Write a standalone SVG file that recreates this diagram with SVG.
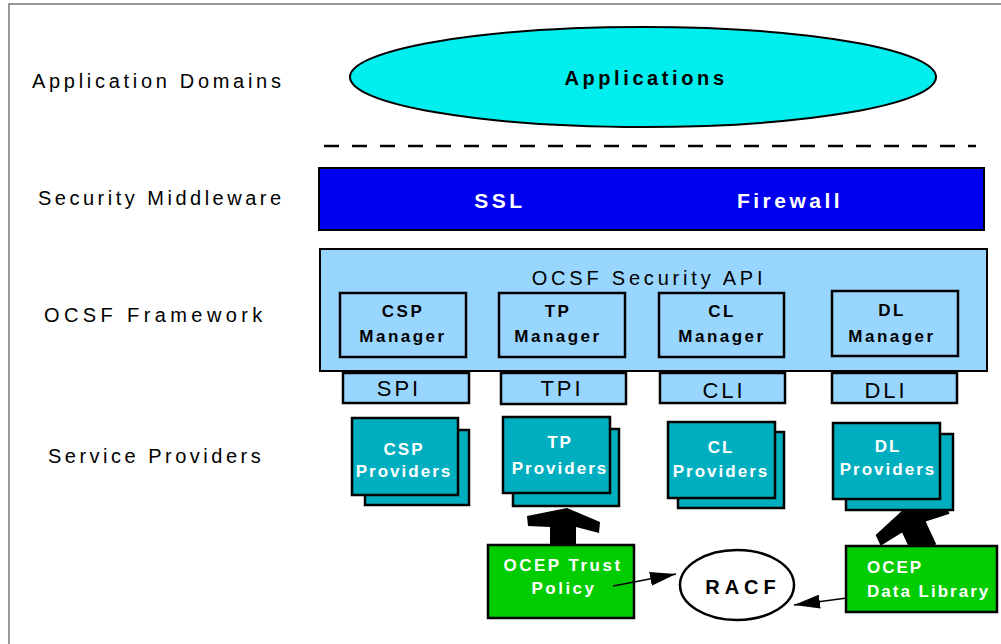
<svg xmlns="http://www.w3.org/2000/svg" width="1001" height="644" viewBox="0 0 1001 644">
<style>
text{font-family:"Liberation Sans",Arial,sans-serif;fill:#000}
.lbl{font-size:20px;letter-spacing:3.7px}
.api{font-size:20px;letter-spacing:3.8px;text-anchor:middle}
.lb{fill:#99D6FF;stroke:#000;stroke-width:2.5}
.mt{font-size:17px;font-weight:bold;letter-spacing:2.5px;text-anchor:middle}
.itf{font-size:22px;letter-spacing:3px;text-anchor:middle}
.prov{fill:#00AFBF;stroke:#000;stroke-width:2.5}
.pt{font-size:17px;font-weight:bold;letter-spacing:2px;fill:#fff;text-anchor:middle}
.ocep{fill:#00CC00;stroke:#000;stroke-width:2.5}
.gt{font-size:17px;font-weight:bold;letter-spacing:2.5px;fill:#fff}
.wb{font-size:21px;font-weight:bold;letter-spacing:3.5px;fill:#fff;text-anchor:middle}
.thin{stroke:#000;stroke-width:1.5;fill:none;marker-end:url(#ah)}
</style>
<defs>
<marker id="ah" markerUnits="userSpaceOnUse" markerWidth="26" markerHeight="14" refX="26" refY="7" orient="auto"><path d="M0,0 L26,7 L0,14 z" fill="#000"/></marker>
<clipPath id="dlclip"><rect x="800" y="511" width="200" height="35"/></clipPath>
</defs>
<rect width="1001" height="644" fill="#fff"/>
<path d="M9,644 V4 H1001" fill="none" stroke="#777" stroke-width="1.5"/>

<g id="layer-labels">
<text class="lbl" x="32" y="88">Application Domains</text>
<text class="lbl" x="38" y="205" style="letter-spacing:3.5px">Security Middleware</text>
<text class="lbl" x="44" y="322" style="letter-spacing:4.4px">OCSF Framework</text>
<text class="lbl" x="48" y="463" style="letter-spacing:3.5px">Service Providers</text>
</g>

<g id="applications">
<ellipse cx="643" cy="77" rx="293" ry="50" fill="#00EEEE" stroke="#000" stroke-width="2"/>
<text x="646" y="85" style="font-size:20px;font-weight:bold;letter-spacing:3.6px;text-anchor:middle">Applications</text>
</g>

<line id="separator" x1="324" y1="146" x2="976" y2="146" stroke="#000" stroke-width="2.5" stroke-dasharray="15 13"/>

<g id="security-middleware">
<rect x="319" y="168" width="665" height="62" fill="#0000EE" stroke="#000" stroke-width="2"/>
<text class="wb" x="500" y="208">SSL</text>
<text class="wb" x="790" y="208">Firewall</text>
</g>

<g id="ocsf-framework">
<rect x="320" y="249" width="667" height="122" fill="#99D6FF" stroke="#000" stroke-width="2"/>
<text class="api" x="649" y="285">OCSF Security API</text>
</g>

<g id="csp-manager">
<rect class="lb" x="340" y="293" width="126" height="64"/>
<text class="mt" x="403" y="317">CSP</text>
<text class="mt" x="403" y="342">Manager</text>
</g>
<g id="tp-manager">
<rect class="lb" x="499" y="293" width="126" height="64"/>
<text class="mt" x="558" y="317">TP</text>
<text class="mt" x="558" y="342">Manager</text>
</g>
<g id="cl-manager">
<rect class="lb" x="659" y="293" width="125" height="64"/>
<text class="mt" x="722" y="317">CL</text>
<text class="mt" x="722" y="342">Manager</text>
</g>
<g id="dl-manager">
<rect class="lb" x="832" y="291" width="126" height="65"/>
<text class="mt" x="892" y="316">DL</text>
<text class="mt" x="892" y="342">Manager</text>
</g>

<g id="spi">
<rect class="lb" x="343" y="373" width="126" height="30"/>
<text class="itf" x="399" y="396">SPI</text>
</g>
<g id="tpi">
<rect class="lb" x="501" y="373" width="125" height="31"/>
<text class="itf" x="562" y="396">TPI</text>
</g>
<g id="cli">
<rect class="lb" x="660" y="373" width="125" height="30"/>
<text class="itf" x="724" y="398">CLI</text>
</g>
<g id="dli">
<rect class="lb" x="832" y="373" width="125" height="30"/>
<text class="itf" x="886" y="398">DLI</text>
</g>

<g id="csp-providers">
<rect class="prov" x="365" y="430" width="104" height="75"/>
<rect class="prov" x="352" y="418" width="106" height="77"/>
<text class="pt" x="404" y="455">CSP</text>
<text class="pt" x="404" y="477">Providers</text>
</g>
<g id="tp-providers">
<rect class="prov" x="513" y="429" width="106" height="77"/>
<rect class="prov" x="503" y="417" width="107" height="76"/>
<text class="pt" x="560" y="448">TP</text>
<text class="pt" x="560" y="474">Providers</text>
</g>
<g id="cl-providers">
<rect class="prov" x="678" y="432" width="106" height="76"/>
<rect class="prov" x="668" y="422" width="107" height="76"/>
<text class="pt" x="721" y="453">CL</text>
<text class="pt" x="721" y="477">Providers</text>
</g>
<g id="dl-providers">
<rect class="prov" x="846" y="434" width="107" height="76"/>
<rect class="prov" x="833" y="423" width="107" height="76"/>
<text class="pt" x="888" y="452">DL</text>
<text class="pt" x="888" y="475">Providers</text>
</g>

<g id="ocep-trust-policy">
<rect class="ocep" x="488" y="545" width="146" height="73"/>
<text class="gt" x="563" y="571" text-anchor="middle">OCEP Trust</text>
<text class="gt" x="564" y="594" text-anchor="middle">Policy</text>
</g>
<g id="ocep-data-library">
<rect class="ocep" x="846" y="546" width="151" height="66"/>
<text class="gt" x="867" y="573" style="letter-spacing:2px">OCEP</text>
<text class="gt" x="867" y="597" style="letter-spacing:2px">Data Library</text>
</g>
<g id="racf">
<ellipse cx="737" cy="585" rx="57" ry="35" fill="#fff" stroke="#000" stroke-width="2.5"/>
<text x="743" y="594" style="font-size:20px;font-weight:bold;letter-spacing:5px;text-anchor:middle">RACF</text>
</g>

<g id="connectors">
<polygon points="567,508 600,522 599,533 576,527 576,544 550,544 550,527 528,526 527,516" fill="#000"/>
<g clip-path="url(#dlclip)">
<polygon transform="translate(905,508) rotate(-25)" points="0,0 38,12 38,24 13,21 13,46 -13,46 -13,21 -38,24 -38,12" fill="#000"/>
</g>
<line class="thin" x1="613" y1="586" x2="676" y2="574"/>
<line class="thin" x1="847" y1="598" x2="794" y2="605"/>
</g>
</svg>
